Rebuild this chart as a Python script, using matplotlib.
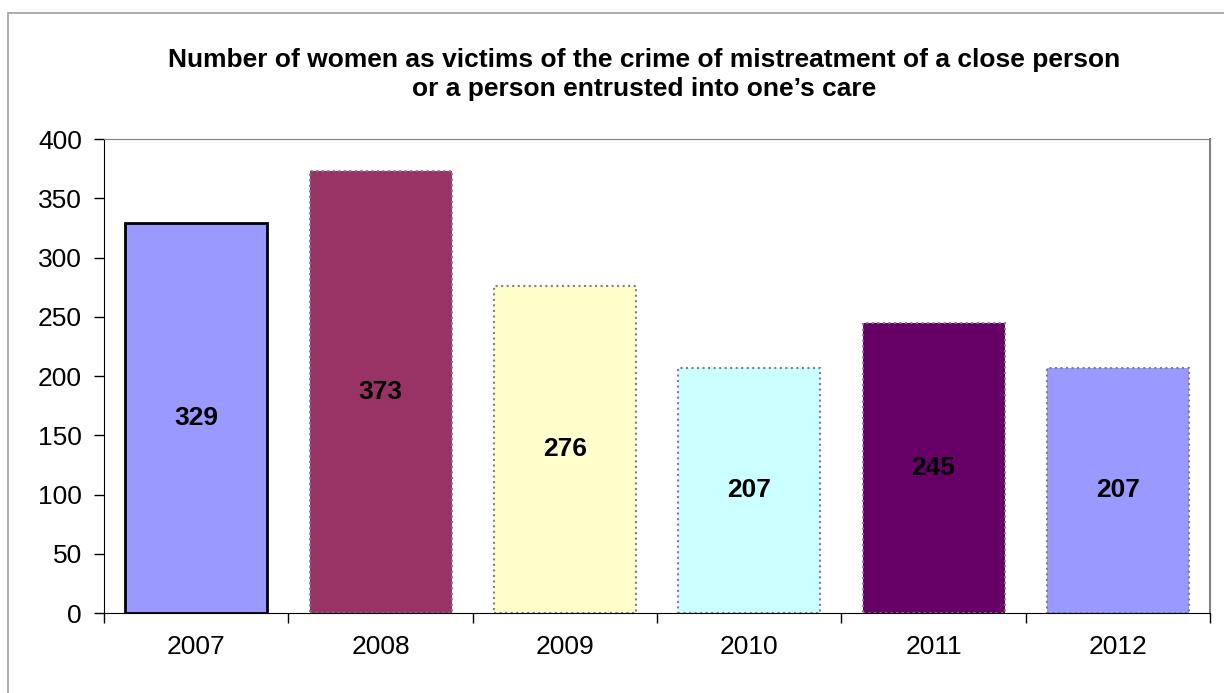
import numpy as np
import matplotlib.pyplot as plt
from matplotlib.patches import Rectangle

plt.rcParams['font.family'] = ['Liberation Sans', 'DejaVu Sans']

years = ['2007', '2008', '2009', '2010', '2011', '2012']
victims = [329, 373, 276, 207, 245, 207]
colors = ['#9999FF', '#993366', '#FFFFCC', '#CCFFFF', '#660066', '#9999FF']

fig = plt.figure(figsize=(12.24, 6.93), dpi=100)
ax = fig.add_axes([0.085, 0.1154, 0.9036, 0.6840])

# outer chart border
fig.patches.append(Rectangle((8/1224, -0.1), 1.2, 1 - 13/693 + 0.1, transform=fig.transFigure,
                             fill=False, edgecolor='#a0a0a0', linewidth=1.2))

x = np.arange(len(years))
bars = ax.bar(x, victims, width=0.77, color=colors, edgecolor='#808080', linewidth=1.5, linestyle=':')
bars[0].set_edgecolor('black')
bars[0].set_linestyle('-')
bars[0].set_linewidth(2)

for xi, v in zip(x, victims):
    ax.text(xi, v / 2, str(v), ha='center', va='center', fontsize=19, fontweight='bold')

ax.set_xlim(-0.5, len(years) - 0.5)
ax.set_ylim(0, 400)
ax.set_yticks(np.arange(0, 401, 50))
ax.set_xticks(x)
ax.set_xticklabels(years)
ax.set_xticks(np.arange(-0.5, len(years)), minor=True)
ax.tick_params(axis='x', which='major', length=0, pad=16, labelsize=19)
ax.tick_params(axis='x', which='minor', length=7, width=1)
ax.tick_params(axis='y', length=7, width=1, labelsize=19, pad=9)

ax.spines['top'].set_color('#808080')
ax.spines['right'].set_color('#808080')
ax.spines['right'].set_linewidth(1.5)

fig.text(0.526, 0.892, 'Number of women as victims of the crime of mistreatment of a close person\n'
         'or a person entrusted into one\u2019s care', ha='center', va='center',
         fontsize=19, fontweight='bold', linespacing=1.25)

fig.savefig('out.png', dpi=100)
